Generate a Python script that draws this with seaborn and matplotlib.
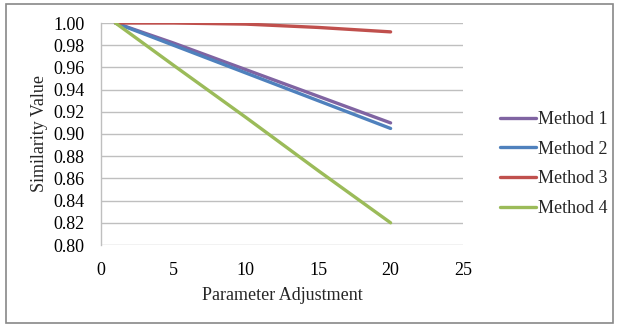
import matplotlib
matplotlib.use("Agg")
import matplotlib.pyplot as plt
import seaborn as sns
import pandas as pd
from matplotlib.patches import Rectangle

x_vals = [1, 5, 10, 15, 20]
method1 = [1.000, 0.982, 0.958, 0.934, 0.910]
method2 = [1.000, 0.980, 0.955, 0.930, 0.905]
method3 = [1.000, 1.000, 0.999, 0.996, 0.992]
method4 = [1.000, 0.962, 0.915, 0.867, 0.820]
series_names = ["Method 1", "Method 2", "Method 3", "Method 4"]
colors = ["#8064A2", "#4F81BD", "#C0504D", "#9BBB59"]

rows = []
for name, vals in zip(series_names, [method1, method2, method3, method4]):
    for xv, yv in zip(x_vals, vals):
        rows.append({"x": xv, "y": yv, "Method": name})
df = pd.DataFrame(rows)

sns.set_style("white")
plt.rcParams['font.family'] = ['Liberation Serif', 'DejaVu Serif']

fig = plt.figure(figsize=(6.19, 3.27), dpi=100)
ax = fig.add_axes([101/619, 1 - 245/327, (463-101)/619, (245-23)/327])

sns.lineplot(data=df, x="x", y="y", hue="Method", palette=colors, ax=ax,
             linewidth=2.4, legend=True)

fs = 13
ax.set_xlim(0, 25)
ax.set_ylim(0.80, 1.00)
ax.set_xticks([0, 5, 10, 15, 20, 25])
ax.set_yticks([0.80 + 0.02*i for i in range(11)])
ax.set_yticklabels([f"{0.80 + 0.02*i:.2f}" for i in range(11)])
ax.yaxis.grid(True, color="#BFBFBF", linewidth=1)
ax.xaxis.grid(False)
ax.set_axisbelow(True)
for s in ["top", "right", "bottom"]:
    ax.spines[s].set_visible(False)
ax.spines["left"].set_color("#BFBFBF")
ax.spines["left"].set_linewidth(1)
ax.tick_params(axis="both", length=0, labelsize=fs, colors="black")
ax.tick_params(axis="x", pad=12)
ax.tick_params(axis="y", pad=12)
ax.set_xlabel("Parameter Adjustment", fontsize=fs, labelpad=6)
ax.set_ylabel("Similarity Value", fontsize=fs, labelpad=4)

handles, labels = ax.get_legend_handles_labels()
ax.legend(handles, labels, loc="center left", bbox_to_anchor=(484/619, 163/327),
          bbox_transform=fig.transFigure, frameon=False, fontsize=fs,
          handlelength=2.0, handletextpad=0.1, labelspacing=0.7)

fig.patches.append(Rectangle((6/619, 4/327), (613-6)/619, (323-4)/327,
                             transform=fig.transFigure, fill=False,
                             edgecolor="#888888", linewidth=1.2))

fig.savefig("out.png", dpi=100)
